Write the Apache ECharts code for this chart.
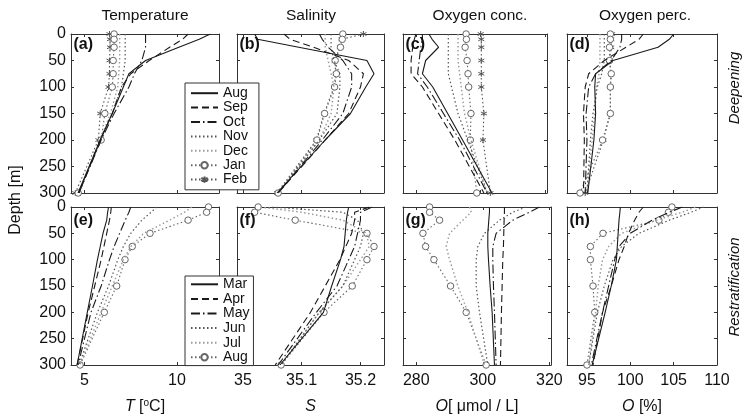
<!DOCTYPE html>
<html><head><meta charset="utf-8">
<script src="https://cdn.jsdelivr.net/npm/echarts@6/dist/echarts.min.js"></script>
<style>html,body{margin:0;padding:0;background:#fff}#c{width:746px;height:417px}</style>
</head><body><div id="c"></div>
<script>
// ---------- DATA ----------
const depths = [0, 10, 25, 50, 75, 100, 150, 200, 300];
const monthsDeep = ['Aug', 'Sep', 'Oct', 'Nov', 'Dec', 'Jan', 'Feb'];
const monthsRestrat = ['Mar', 'Apr', 'May', 'Jun', 'Jul', 'Aug'];
const depthTicks = [0, 50, 100, 150, 200, 250, 300];
const tempTicks = [5, 10];
const salTicks = [35, 35.1, 35.2];
const oxcTicks = [280, 300, 320];
const oxpTicks = [95, 100, 105, 110];

// Deepening (top row) - Temperature [degC]
const tempD_Aug = [11.8, 11.2, 10.1, 8.3, 7.4, 7.1, 6.5, 5.85, 4.65];
const tempD_Sep = [10.6, 10.3, 9.6, 8.5, 7.5, 7.0, 6.5, 5.85, 4.7];
const tempD_Oct = [8.3, 8.3, 8.3, 8.1, 7.7, 7.4, 6.6, 5.9, 4.7];
const tempD_Nov = [7.2, 7.2, 7.2, 7.2, 7.1, 7.0, 6.5, 5.85, 4.7];
const tempD_Dec = [6.9, 6.9, 6.9, 6.9, 6.85, 6.8, 6.4, 5.85, 4.7];
const tempD_Jan = [6.6, 6.6, 6.6, 6.55, 6.55, 6.5, 6.1, 5.9, 4.66];
const tempD_Feb = [6.35, 6.38, 6.38, 6.35, 6.35, 6.3, 5.85, 5.75, 4.5];
// Deepening - Salinity
const salD_Aug = [35.02, 35.025, 35.095, 35.211, 35.223, 35.209, 35.183, 35.14, 35.058];
const salD_Sep = [35.07, 35.08, 35.12, 35.18, 35.205, 35.2, 35.18, 35.14, 35.06];
const salD_Oct = [35.13, 35.135, 35.145, 35.17, 35.185, 35.185, 35.17, 35.135, 35.06];
const salD_Nov = [35.15, 35.15, 35.15, 35.155, 35.165, 35.165, 35.16, 35.13, 35.06];
const salD_Dec = [35.14, 35.14, 35.14, 35.145, 35.15, 35.155, 35.15, 35.13, 35.06];
const salD_Jan = [35.17, 35.169, 35.166, 35.157, 35.159, 35.156, 35.139, 35.126, 35.06];
const salD_Feb = [35.205, 35.168, 35.165, 35.156, 35.158, 35.155, 35.138, 35.125, 35.058];
// Deepening - Oxygen concentration [umol/L]
const oxcD_Aug = [284, 285, 287, 283, 282, 285.2, 289.8, 294.4, 303.5];
const oxcD_Sep = [280, 279.5, 279, 278.5, 278.5, 282, 287, 292, 301];
const oxcD_Oct = [282, 282, 281.5, 281, 280.5, 283.5, 288.5, 293.5, 302];
const oxcD_Nov = [290, 290, 290, 290, 290, 291, 293, 296, 302];
const oxcD_Dec = [293, 293, 293, 293, 293.5, 294, 295, 297, 302];
const oxcD_Jan = [295.5, 295.6, 295.2, 295.8, 296.1, 296.3, 297, 296.8, 298.8];
const oxcD_Feb = [300, 300.2, 300.2, 300.2, 300.2, 300.2, 301, 300.7, 303];
// Deepening - Oxygen percentage [%]
const oxpD_Aug = [105, 104.5, 103.2, 98, 96, 95.9, 96, 95.8, 95.1];
const oxpD_Sep = [101.5, 101, 99.5, 97, 95.2, 94.8, 94.6, 94.7, 94.6];
const oxpD_Oct = [99, 99, 98.8, 97.8, 96, 95.2, 94.9, 95, 94.8];
const oxpD_Nov = [97, 97, 97, 97, 96.7, 96.2, 95.7, 95.4, 95];
const oxpD_Dec = [96.5, 96.5, 96.5, 96.5, 96.4, 96.1, 95.9, 95.6, 95];
const oxpD_Jan = [97.7, 97.7, 97.6, 97.6, 97.8, 97.7, 97.7, 96.8, 94.2];
const oxpD_Feb = [97.9, 97.8, 97.8, 97.6, 97.8, 97.7, 97.7, 96.9, 94.8];

// Restratification (bottom row) - Temperature
const tempR_Mar = [6.3, 6.25, 6.2, 6.0, 5.85, 5.7, 5.43, 5.15, 4.6];
const tempR_Apr = [6.45, 6.42, 6.35, 6.2, 6.05, 5.9, 5.55, 5.2, 4.6];
const tempR_May = [7.5, 7.4, 7.2, 6.9, 6.6, 6.35, 5.9, 5.35, 4.65];
const tempR_Jun = [8.9, 8.6, 8.1, 7.5, 7.1, 6.8, 6.3, 5.7, 4.7];
const tempR_Jul = [10.8, 10.4, 9.6, 8.2, 7.5, 7.1, 6.5, 5.9, 4.75];
const tempR_Aug = [11.7, 11.6, 10.6, 8.54, 7.58, 7.19, 6.74, 6.07, 4.76];
// Restratification - Salinity
const salR_Mar = [35.18, 35.178, 35.176, 35.174, 35.172, 35.166, 35.151, 35.137, 35.063];
const salR_Apr = [35.215, 35.19, 35.19, 35.185, 35.175, 35.165, 35.14, 35.115, 35.055];
const salR_May = [35.22, 35.2, 35.2, 35.195, 35.19, 35.18, 35.16, 35.125, 35.06];
const salR_Jun = [35.05, 35.17, 35.195, 35.205, 35.2, 35.19, 35.17, 35.13, 35.065];
const salR_Jul = [35.03, 35.1, 35.17, 35.21, 35.215, 35.2, 35.17, 35.13, 35.065];
const salR_Aug = [35.026, 35.02, 35.089, 35.211, 35.223, 35.211, 35.186, 35.138, 35.065];
// Restratification - Oxygen concentration
const oxcR_Mar = [302, 302, 301.8, 301.5, 301.5, 301.7, 302.2, 302.8, 303.5];
const oxcR_Apr = [306.5, 306.5, 306.4, 306.3, 306.2, 306, 305.8, 305.6, 305.3];
const oxcR_May = [317, 314, 309, 304, 303, 303, 303.2, 303.5, 304];
const oxcR_Jun = [313, 309, 305, 300.5, 298.5, 298, 298, 299, 301.5];
const oxcR_Jul = [296, 296.5, 294, 290, 289, 290, 292.5, 295.5, 300.5];
const oxcR_Aug = [284, 284, 287, 282, 282.8, 285.3, 290.3, 295, 301];
// Restratification - Oxygen percentage
const oxpR_Mar = [98.85, 98.8, 98.7, 98.6, 98.5, 98.4, 97.8, 97.1, 95.6];
const oxpR_Apr = [101.5, 101, 100.5, 99.8, 99.3, 98.7, 97.8, 96.8, 95.7];
const oxpR_May = [106, 104.5, 102.5, 100, 98.7, 98.2, 97.5, 96.8, 95.5];
const oxpR_Jun = [108.5, 107, 104.5, 101, 99, 98, 97, 96.2, 95.2];
const oxpR_Jul = [107.5, 106, 103, 99, 97.5, 96.8, 96.3, 96, 95.2];
const oxpR_Aug = [104.8, 104.4, 103.3, 96.85, 95.4, 95.4, 95.7, 95.9, 95];

// ---------- BUILD ----------
const FONT = '"Liberation Sans", Arial, Helvetica, sans-serif';
const deepPanels = [
  [tempD_Aug, tempD_Sep, tempD_Oct, tempD_Nov, tempD_Dec, tempD_Jan, tempD_Feb],
  [salD_Aug, salD_Sep, salD_Oct, salD_Nov, salD_Dec, salD_Jan, salD_Feb],
  [oxcD_Aug, oxcD_Sep, oxcD_Oct, oxcD_Nov, oxcD_Dec, oxcD_Jan, oxcD_Feb],
  [oxpD_Aug, oxpD_Sep, oxpD_Oct, oxpD_Nov, oxpD_Dec, oxpD_Jan, oxpD_Feb]
];
const restratPanels = [
  [tempR_Mar, tempR_Apr, tempR_May, tempR_Jun, tempR_Jul, tempR_Aug],
  [salR_Mar, salR_Apr, salR_May, salR_Jun, salR_Jul, salR_Aug],
  [oxcR_Mar, oxcR_Apr, oxcR_May, oxcR_Jun, oxcR_Jul, oxcR_Aug],
  [oxpR_Mar, oxpR_Apr, oxpR_May, oxpR_Jun, oxpR_Jul, oxpR_Aug]
];

const ASTER = 'path://M5,0L5,10M0.67,2.5L9.33,7.5M0.67,7.5L9.33,2.5';
const styleSolid = {type: 'solid', color: '#1a1a1a', width: 1.1, symbol: 'none'};
const styleDash = {type: [7, 4], color: '#1a1a1a', width: 1.1, symbol: 'none'};
const styleDashDot = {type: [9, 3, 1.5, 3], color: '#1a1a1a', width: 1.1, symbol: 'none'};
const styleDot = {type: [1.5, 2.5], color: '#555', width: 1.2, symbol: 'none'};
const styleDotGrey = {type: [1.5, 2.5], color: '#999', width: 1.4, symbol: 'none'};
const styleCirc = {type: [1.5, 2.5], color: '#666', width: 1.1, symbol: 'circle', size: 6.5, fill: '#fff'};
const styleStar = {type: [1.5, 2.5], color: '#555', width: 1.1, symbol: ASTER, size: 6};
const deepStyles = [styleSolid, styleDash, styleDashDot, styleDot, styleDotGrey, styleCirc, styleStar];
const restratStyles = [styleSolid, styleDash, styleDashDot, styleDot, styleDotGrey, styleCirc];

const rowsDef = [{top: 34, height: 159}, {top: 207, height: 158}];
const colsDef = [
  {left: 71, width: [148, 148], min: 4.27, max: 12.27, ticks: tempTicks, name: '{i|T} [{sup|o}C]'},
  {left: 237, width: [147, 147], min: 34.99, max: 35.24, ticks: salTicks, name: '{i|S}'},
  {left: 403, width: [144, 148], min: 276, max: 320.5, ticks: oxcTicks, name: '{i|O}[ μmol / L]'},
  {left: 567, width: [150, 150], min: 92.7, max: 110, ticks: oxpTicks, name: '{i|O} [%]'}
];

const grid = [], xAxis = [], yAxis = [], series = [];
const lineCol = '#333';
const tickStyle = {show: true, inside: true, length: 3, lineStyle: {color: lineCol, width: 1}};
for (let r = 0; r < 2; r++) {
  for (let c = 0; c < 4; c++) {
    const g = r * 4 + c;
    const cd = colsDef[c];
    grid.push({left: cd.left, top: rowsDef[r].top, width: cd.width[r], height: rowsDef[r].height, containLabel: false});
    const showX = r === 1;
    xAxis.push({
      type: 'value', gridIndex: g, position: 'bottom', min: cd.min, max: cd.max,
      axisLine: {show: true, onZero: false, lineStyle: {color: lineCol, width: 1}},
      axisTick: Object.assign({customValues: cd.ticks}, tickStyle),
      axisLabel: {show: showX, customValues: cd.ticks, fontSize: 16, color: '#111', fontFamily: FONT, margin: 8},
      splitLine: {show: false},
      name: showX ? cd.name : '', nameLocation: 'middle', nameGap: 33,
      nameTextStyle: {fontSize: 16, color: '#111', fontFamily: FONT, lineHeight: 18,
        rich: {i: {fontStyle: 'italic', fontSize: 16, fontFamily: FONT, color: '#111'},
               sup: {fontSize: 10, verticalAlign: 'top', lineHeight: 18, fontFamily: FONT, color: '#111'}}}
    });
    xAxis.push({
      type: 'value', gridIndex: g, position: 'top', min: cd.min, max: cd.max,
      axisLine: {show: true, onZero: false, lineStyle: {color: lineCol, width: 1}},
      axisTick: Object.assign({customValues: cd.ticks}, tickStyle),
      axisLabel: {show: false}, splitLine: {show: false}
    });
    yAxis.push({
      type: 'value', gridIndex: g, position: 'left', inverse: true, min: 0, max: 300, interval: 50,
      axisLine: {show: true, onZero: false, lineStyle: {color: lineCol, width: 1}},
      axisTick: tickStyle,
      axisLabel: {show: c === 0, fontSize: 16, color: '#111', fontFamily: FONT, margin: 5},
      splitLine: {show: false}
    });
    yAxis.push({
      type: 'value', gridIndex: g, position: 'right', inverse: true, min: 0, max: 300, interval: 50,
      axisLine: {show: true, onZero: false, lineStyle: {color: lineCol, width: 1}},
      axisTick: tickStyle, axisLabel: {show: false}, splitLine: {show: false}
    });
    const panelVals = r === 0 ? deepPanels[c] : restratPanels[c];
    const names = r === 0 ? monthsDeep : monthsRestrat.map(m => m === 'Aug' ? 'Aug2' : m);
    const styles = r === 0 ? deepStyles : restratStyles;
    panelVals.forEach((vals, k) => {
      const st = styles[k];
      series.push({
        type: 'line', name: names[k], xAxisIndex: 2 * g, yAxisIndex: 2 * g,
        data: vals.map((v, i) => [v, depths[i]]),
        symbol: st.symbol, symbolSize: st.size || 0, showSymbol: st.symbol !== 'none',
        lineStyle: {type: st.type, color: st.color, width: st.width},
        itemStyle: {color: st.fill || st.color, borderColor: st.color, borderWidth: 1},
        silent: true, animation: false, z: 2 + (6 - k) * 0.01
      });
    });
  }
}

function legendItems(list, styles) {
  return list.map((n, k) => styles[k].symbol === 'none' ? {name: n, itemStyle: {opacity: 0}} : {name: n});
}
const legendCommon = {
  orient: 'vertical', itemWidth: 27, itemHeight: 8, itemGap: 0, selectedMode: false,
  backgroundColor: '#fff', borderColor: '#333', borderWidth: 1, borderRadius: 0,
  textStyle: {fontSize: 14, color: '#111', fontFamily: FONT}, z: 10
};
const legend = [
  Object.assign({}, legendCommon, {left: 185, top: 83, padding: [3, 11, 3, 5],
    textStyle: Object.assign({}, legendCommon.textStyle, {lineHeight: 14.4}),
    data: legendItems(monthsDeep, deepStyles)}),
  Object.assign({}, legendCommon, {left: 185, top: 276, padding: [1, 4, 1, 5],
    textStyle: Object.assign({}, legendCommon.textStyle, {lineHeight: 14.6}),
    formatter: n => n === 'Aug2' ? 'Aug' : n,
    data: legendItems(monthsRestrat.map(m => m === 'Aug' ? 'Aug2' : m), restratStyles)})
];

const titles = ['Temperature', 'Salinity', 'Oxygen conc.', 'Oxygen perc.'];
const titleX = [145, 311, 480, 645];
const panelLetters = ['(a)', '(b)', '(c)', '(d)', '(e)', '(f)', '(g)', '(h)'];
const graphic = [];
titles.forEach((t, i) => graphic.push({type: 'text', x: titleX[i], y: 16,
  style: {text: t, fontSize: 15.5, fontFamily: FONT, fill: '#111', textAlign: 'center', textVerticalAlign: 'middle'}}));
panelLetters.forEach((t, i) => {
  const r = Math.floor(i / 4), c = i % 4;
  graphic.push({type: 'text', x: colsDef[c].left + 2.5, y: r === 0 ? 45 : 221, z: 20,
    style: {text: t, fontSize: 16, fontWeight: 'bold', fontFamily: FONT, fill: '#111', textAlign: 'left', textVerticalAlign: 'middle'}});
});
graphic.push({type: 'text', x: 16, y: 200, rotation: Math.PI / 2,
  style: {text: 'Depth [m]', fontSize: 16, fontFamily: FONT, fill: '#111', textAlign: 'center', textVerticalAlign: 'middle'}});
graphic.push({type: 'text', x: 735, y: 88, rotation: Math.PI / 2,
  style: {text: 'Deepening', fontSize: 15, fontStyle: 'italic', fontFamily: FONT, fill: '#111', textAlign: 'center', textVerticalAlign: 'middle'}});
graphic.push({type: 'text', x: 735, y: 287, rotation: Math.PI / 2,
  style: {text: 'Restratification', fontSize: 15, fontStyle: 'italic', fontFamily: FONT, fill: '#111', textAlign: 'center', textVerticalAlign: 'middle'}});

const chart = echarts.init(document.getElementById('c'), null, {renderer: 'canvas', width: 746, height: 417});
chart.setOption({
  animation: false, backgroundColor: '#fff',
  grid, xAxis, yAxis, series, legend, graphic
});
</script></body></html>
